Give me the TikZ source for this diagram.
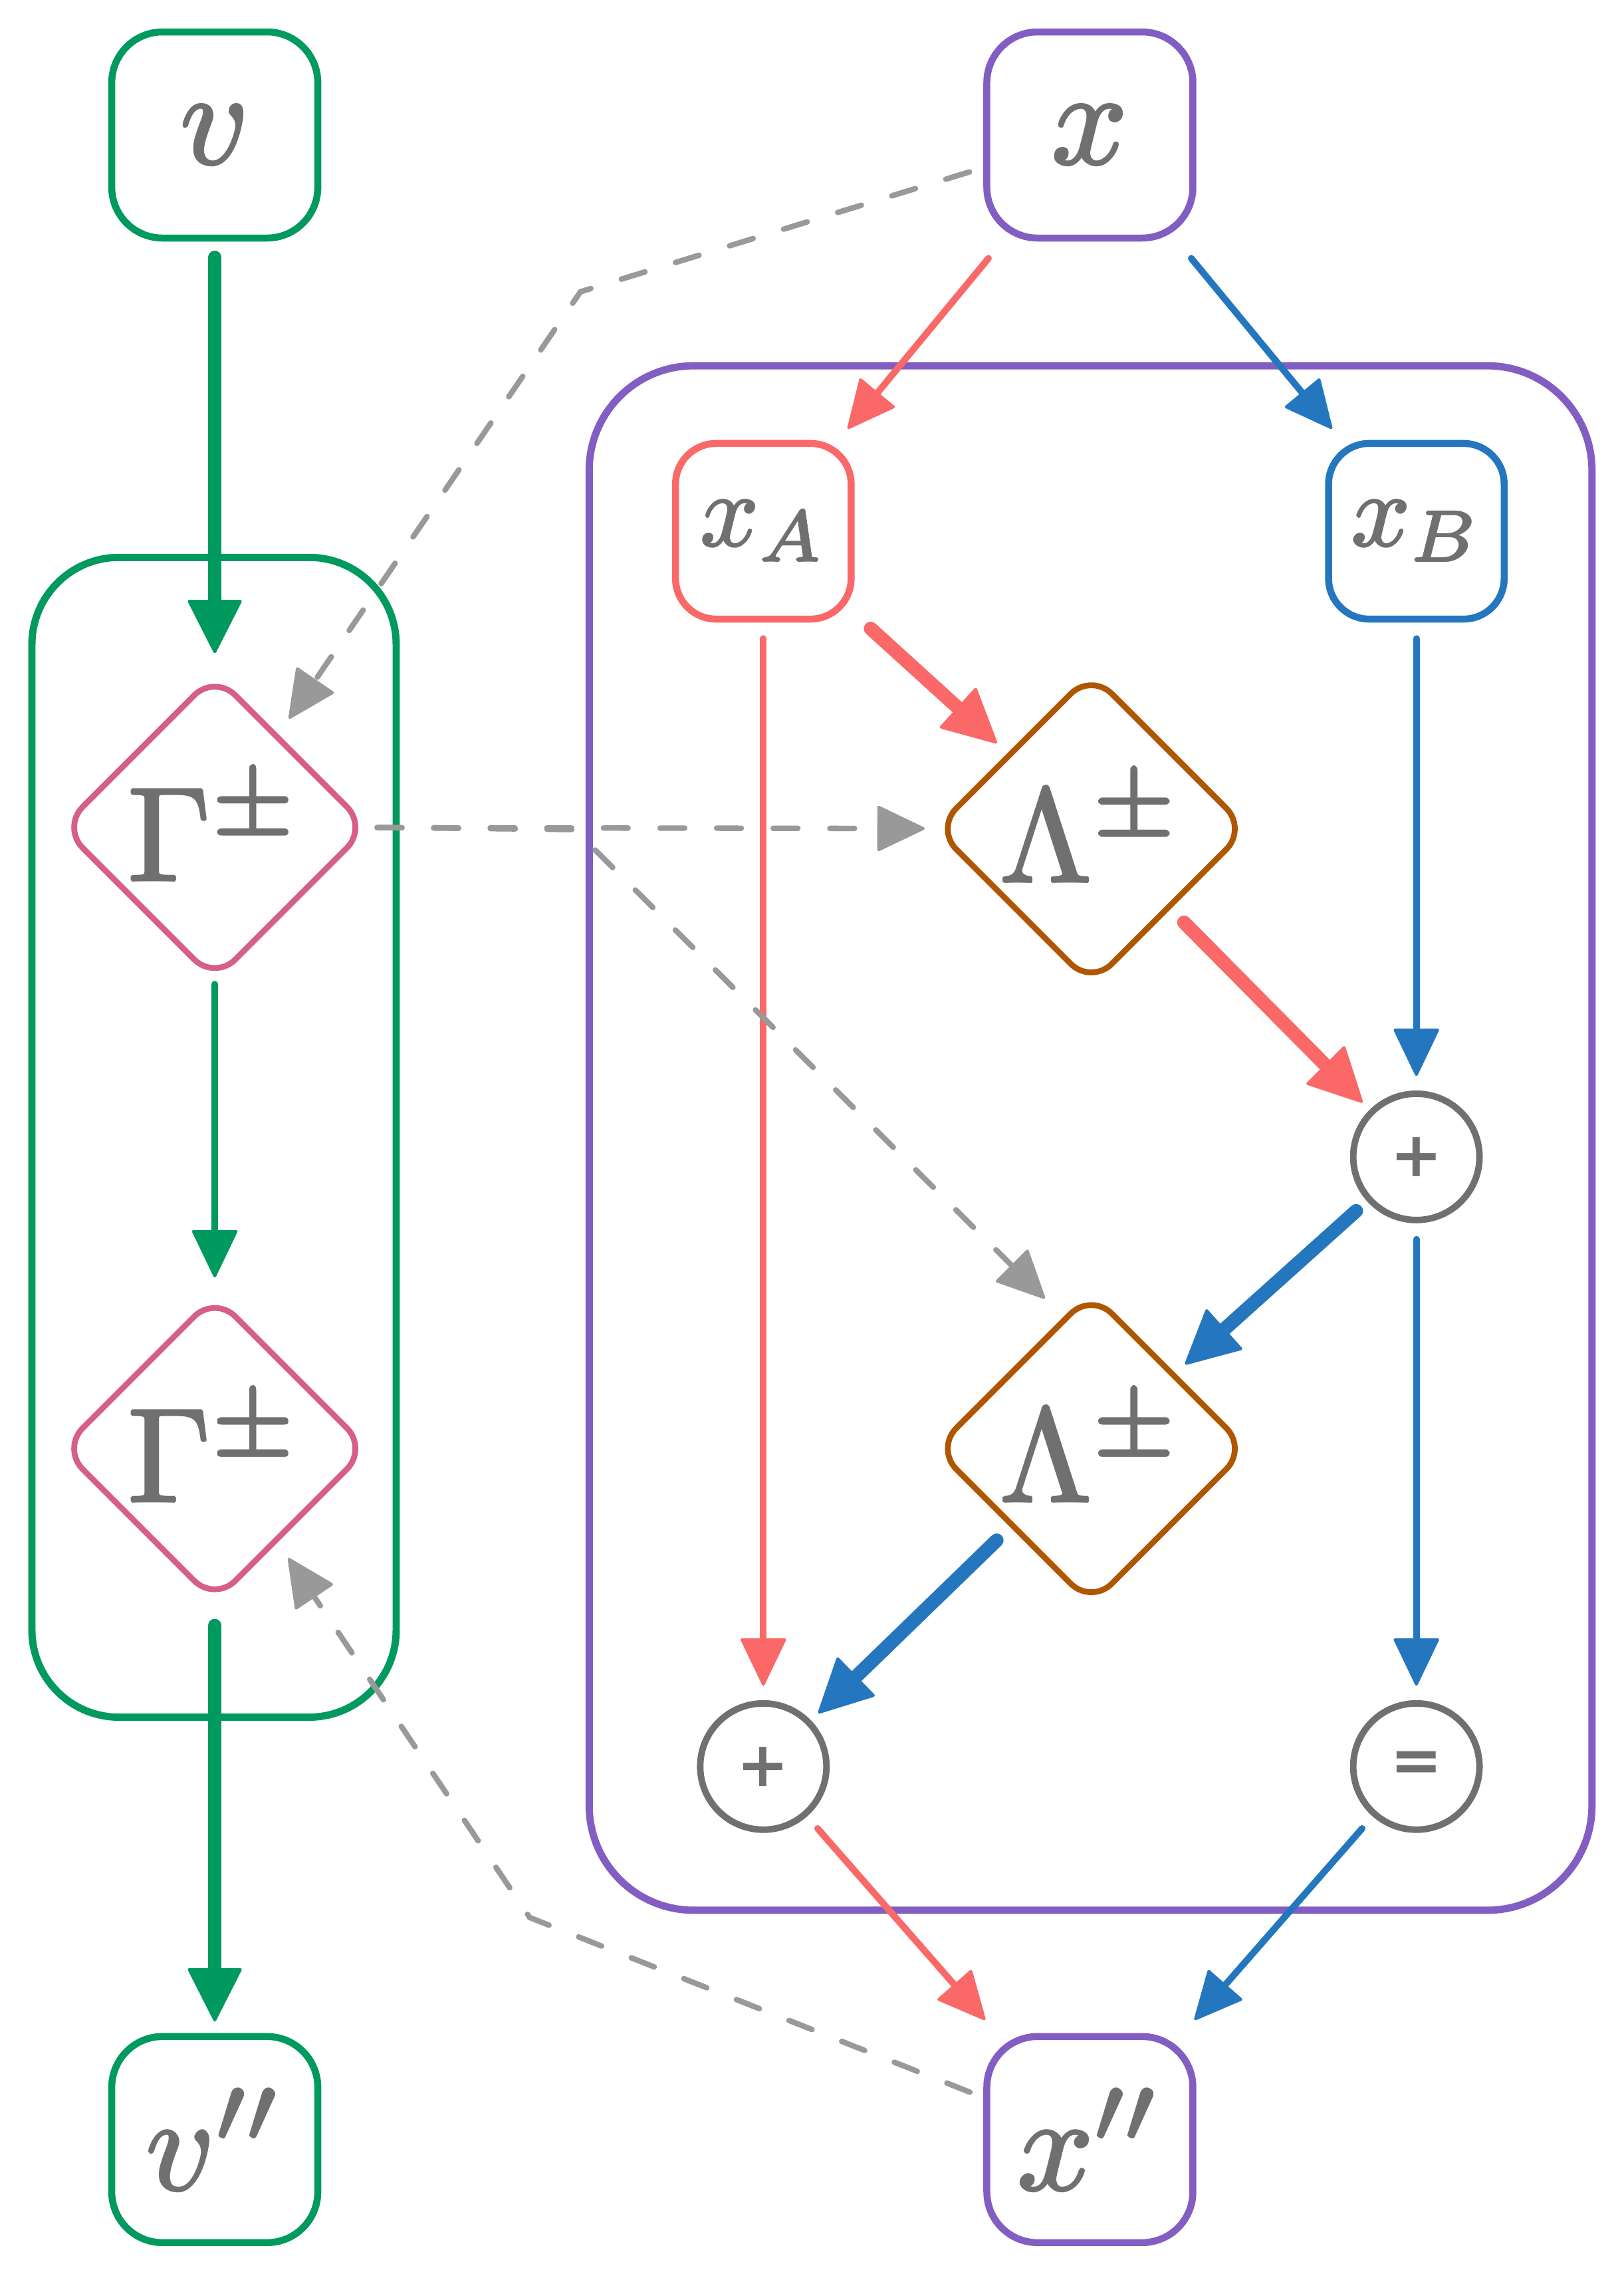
\RequirePackage{fix-cm}
\documentclass[tikz,border=0pt]{standalone}
\usepackage{graphicx}
\usepackage{fontspec}
\newfontfamily\opfont{DejaVu Sans}
\usetikzlibrary{arrows.meta,shapes.geometric,calc}
\definecolor{cgreen}{RGB}{0,153,94}
\definecolor{cpurple}{RGB}{130,94,194}
\definecolor{cred}{RGB}{250,104,104}
\definecolor{cblue}{RGB}{36,119,190}
\definecolor{cbrown}{RGB}{176,85,0}
\definecolor{cpink}{RGB}{214,94,136}
\definecolor{ctext}{RGB}{112,112,112}
\definecolor{cdash}{RGB}{153,153,153}
% heavier text: overprint the box with small offsets
\newsavebox\hvbox
\newlength\hvd
\setlength\hvd{0.09pt}
\newcommand\hv[1]{\sbox\hvbox{#1}%
  \makebox[\wd\hvbox][l]{%
    \rlap{\usebox\hvbox}%
    \rlap{\hspace*{\hvd}\usebox\hvbox}%
    \rlap{\hspace*{-\hvd}\usebox\hvbox}%
    \rlap{\raisebox{\hvd}{\usebox\hvbox}}%
    \rlap{\raisebox{-\hvd}{\usebox\hvbox}}%
    \rlap{\hspace*{0.7\hvd}\raisebox{0.7\hvd}{\usebox\hvbox}}%
    \rlap{\hspace*{-0.7\hvd}\raisebox{0.7\hvd}{\usebox\hvbox}}%
    \rlap{\hspace*{0.7\hvd}\raisebox{-0.7\hvd}{\usebox\hvbox}}%
    \rlap{\hspace*{-0.7\hvd}\raisebox{-0.7\hvd}{\usebox\hvbox}}%
  }}
\newcommand\bigtxt[1]{\scalebox{9.2}{\hv{#1}}}
\newcommand\midtxt[1]{\scalebox{7.1}{\hv{#1}}}
\tikzset{
  every node/.append style={text=ctext},
  sbox/.style={draw, line width=4.8pt, rounded corners=35pt, minimum width=142pt, minimum height=142pt, inner sep=0pt},
  mbox/.style={draw, line width=4.8pt, rounded corners=28pt, minimum width=121pt, minimum height=121pt, inner sep=0pt},
  dia/.style={shape=diamond, draw, line width=4pt, rounded corners=20pt, minimum width=212pt, minimum height=212pt, inner sep=0pt},
  opnode/.style={circle, draw=ctext, line width=4.5pt, minimum size=87pt, inner sep=0pt, font=\opfont\bfseries\fontsize{43}{50}\selectfont},
  group/.style={draw, line width=5pt, inner sep=0pt},
  thinarr/.style={line width=4.6pt, line cap=round, -{Triangle[length=34pt,width=32pt,round,line width=2pt]}},
  thickarr/.style={line width=9.5pt, line cap=round, -{Triangle[length=38pt,width=38pt,round,line width=2pt]}},
  dasharr/.style={draw=cdash, line width=3.8pt, line cap=round, dash pattern=on 17pt off 22pt, -{Triangle[length=34pt,width=32pt,round,line width=2pt]}},
}
\begin{document}
\begin{tikzpicture}[x=1pt,y=-1pt]
\fill[white] (0,0) rectangle (1119,1568);
\useasboundingbox (0,0) rectangle (1119,1568);
% group boxes
\node[group, draw=cgreen, rounded corners=60pt, minimum width=251pt, minimum height=799pt] (gl) at (147.5,783.5) {};
\node[group, draw=cpurple, rounded corners=72pt, minimum width=691pt, minimum height=1064pt] (gr) at (751.5,784) {};
% nodes
\node[sbox, draw=cgreen] (v) at (148,93) {\bigtxt{$v$}};
\node[sbox, draw=cpurple] (x) at (751,93) {\bigtxt{$x$}};
\node[sbox, draw=cgreen] (v2) at (148,1474) {\bigtxt{$v''$}};
\node[sbox, draw=cpurple] (x2) at (751,1474) {\bigtxt{$x''$}};
\node[mbox, draw=cred] (xA) at (526,366) {\midtxt{$x_A$}};
\node[mbox, draw=cblue] (xB) at (976,366) {\midtxt{$x_B$}};
\node[dia, draw=cpink] (G1) at (148,570) {\bigtxt{$\Gamma^{\pm}$}};
\node[dia, draw=cpink] (G2) at (148,998) {\bigtxt{$\Gamma^{\pm}$}};
\node[dia, draw=cbrown, minimum width=216pt, minimum height=216pt] (L1) at (752,571) {\bigtxt{$\Lambda^{\pm}$}};
\node[dia, draw=cbrown, minimum width=216pt, minimum height=216pt] (L2) at (752,998) {\bigtxt{$\Lambda^{\pm}$}};
\node[opnode] (P1) at (976,797) {+};
\node[opnode] (P2) at (526,1217) {+};
\node[opnode] (E) at (976,1217) {=};
% bend points of dashed connectors
\coordinate (b1) at (400,201);
\coordinate (b2) at (396,571.5);
\coordinate (b3) at (365,1321);
% solid connectors
\draw[thickarr, cgreen, shorten <=11pt, shorten >=12pt] (v) -- (G1);
\draw[thinarr, cgreen, shorten <=0pt, shorten >=10pt] (G1) -- (G2);
\draw[thickarr, cgreen, shorten <=14pt, shorten >=8pt] (G2) -- (v2);
\draw[thinarr, cred, shorten <=15pt, shorten >=10pt] (x) -- (xA);
\draw[thinarr, cblue, shorten <=15pt, shorten >=10pt] (x) -- (xB);
\draw[thickarr, cred, shorten <=15pt, shorten >=10pt] (xA) -- (L1);
\draw[thinarr, cred, shorten <=11pt, shorten >=10pt] (xA) -- (P2);
\draw[thinarr, cblue, shorten <=11pt, shorten >=10pt] (xB) -- (P1);
\draw[thickarr, cred, shorten <=13pt, shorten >=7pt] (L1) -- (P1);
\draw[thickarr, cblue, shorten <=10pt, shorten >=9pt] (P1) -- (L2);
\draw[thinarr, cblue, shorten <=11pt, shorten >=10pt] (P1) -- (E);
\draw[thickarr, cblue, shorten <=13pt, shorten >=7pt] (L2) -- (P2);
\draw[thinarr, cred, shorten <=11pt, shorten >=12pt] (P2) -- (x2);
\draw[thinarr, cblue, shorten <=11pt, shorten >=12pt] (E) -- (x2);
% dashed connectors
\draw[dasharr, shorten <=10pt, shorten >=13pt] (x) -- (b1) -- (G1);
\draw[dasharr, shorten <=4pt, shorten >=5pt] (G1) -- (L1);
\draw[dasharr, shorten <=4pt, shorten >=18pt] (G1.east) -- (b2) -- (L2.102);
\draw[dasharr, shorten <=10pt, shorten >=13pt] (x2) -- (b3) -- (G2);
\end{tikzpicture}
\end{document}
